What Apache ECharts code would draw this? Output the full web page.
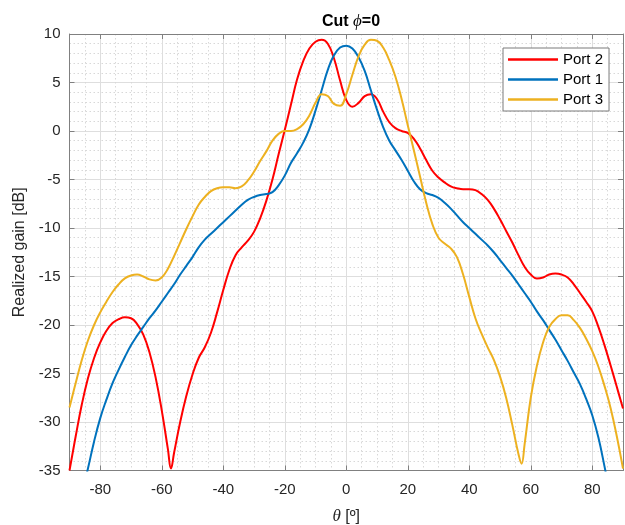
<!DOCTYPE html>
<html>
<head>
<meta charset="utf-8">
<script src="https://cdn.jsdelivr.net/npm/echarts@6/dist/echarts.min.js"></script>
<style>html,body{margin:0;padding:0;background:#fff}#c{width:625px;height:525px}</style>
</head>
<body>
<div id="c"></div>
<script>
// ---- data (theta in degrees, realized gain in dB) ----
const port2Theta = [-90,-88,-86,-84,-82,-80,-78,-76,-74,-72,-70,-68,-66,-64,-62,-60,-58,-57,-56,-54,-52,-50,-48,-46,-44,-42,-40,-38,-36,-34,-32,-30,-28,-26,-24,-22,-20,-18,-16,-14,-12,-10,-8,-6,-4,-2,0,2,4,6,8,10,12,14,16,18,20,22,24,26,28,30,32,34,36,38,40,42,44,46,48,50,52,54,56,58,60,62,64,66,68,70,72,74,76,78,80,82,84,86,88,90];
const port2Gain = [-35,-31.5,-28.2,-25.5,-23.4,-21.8,-20.6,-19.8,-19.4,-19.2,-19.3,-19.9,-21.0,-22.8,-25.4,-28.8,-32.8,-34.8,-33.2,-30.0,-27.3,-25.1,-23.4,-22.3,-20.8,-18.7,-16.4,-14.3,-12.8,-12.0,-11.3,-10.4,-9.0,-7.2,-5.0,-2.4,0.1,2.7,5.3,7.2,8.5,9.2,9.4,9.0,7.5,5.2,3.2,2.5,2.9,3.6,3.8,3.3,2.0,0.9,0.3,0.0,-0.2,-0.8,-1.8,-3.0,-4.1,-4.8,-5.3,-5.7,-5.9,-6.0,-6.0,-6.1,-6.5,-7.1,-8.0,-9.1,-10.3,-11.5,-12.8,-14.0,-14.8,-15.2,-15.1,-14.8,-14.7,-14.8,-15.1,-15.8,-16.7,-17.6,-18.6,-20.2,-22.1,-24.2,-26.4,-28.6];

const port1Theta = [-90,-88,-86,-84,-82,-80,-78,-76,-74,-72,-70,-68,-66,-64,-62,-60,-58,-56,-54,-52,-50,-48,-46,-44,-42,-40,-38,-36,-34,-32,-30,-28,-26,-24,-22,-20,-18,-16,-14,-12,-10,-8,-6,-4,-2,0,2,4,6,8,10,12,14,16,18,20,22,24,26,28,30,32,34,36,38,40,42,44,46,48,50,52,54,56,58,60,62,64,66,68,70,72,74,76,78,80,82,84,86,88,90];
const port1Gain = [-43.5,-40.5,-37.5,-34.8,-32.0,-29.6,-27.7,-26.0,-24.6,-23.3,-22.1,-21.1,-20.2,-19.3,-18.5,-17.6,-16.7,-15.8,-14.8,-13.9,-13.0,-12.0,-11.2,-10.6,-10.0,-9.4,-8.8,-8.2,-7.6,-7.1,-6.8,-6.6,-6.5,-6.3,-5.6,-4.6,-3.3,-2.3,-1.2,0.2,2.1,4.2,6.3,7.8,8.6,8.8,8.5,7.6,6.2,4.2,2.2,0.4,-1.0,-2.0,-3.0,-4.1,-5.2,-6.0,-6.4,-6.6,-6.9,-7.4,-8.0,-8.7,-9.4,-10.0,-10.6,-11.2,-11.8,-12.5,-13.3,-14.1,-14.9,-15.8,-16.7,-17.6,-18.6,-19.5,-20.5,-21.5,-22.6,-23.7,-24.9,-26.1,-27.6,-29.3,-31.6,-34.6,-37.8,-41.0,-44.0];

const port3Theta = [-90,-88,-86,-84,-82,-80,-78,-76,-74,-72,-70,-68,-66,-64,-62,-60,-58,-56,-54,-52,-50,-48,-46,-44,-42,-40,-38,-36,-34,-32,-30,-28,-26,-24,-22,-20,-18,-16,-14,-12,-10,-8,-6,-4,-2,0,2,4,6,8,10,12,14,16,18,20,22,24,26,28,30,32,34,36,38,40,42,44,46,48,50,52,54,56,57,58,60,62,64,66,68,70,72,74,76,78,80,82,84,86,88,90];
const port3Gain = [-28.5,-26.0,-23.6,-21.6,-20.0,-18.7,-17.6,-16.6,-15.8,-15.2,-14.9,-14.8,-15.0,-15.3,-15.4,-15.1,-14.2,-12.9,-11.5,-10.1,-8.8,-7.6,-6.8,-6.2,-5.9,-5.8,-5.8,-5.9,-5.7,-5.1,-4.2,-3.1,-2.1,-1.0,-0.3,0.0,0.0,0.2,0.7,1.6,2.9,3.8,3.6,2.8,2.6,3.8,5.8,7.7,8.9,9.4,9.3,8.6,7.3,5.6,3.3,0.6,-2.0,-4.7,-7.4,-9.6,-11.0,-11.6,-12.1,-13.0,-14.8,-17.1,-19.3,-20.9,-22.3,-23.6,-25.3,-27.5,-30.3,-33.3,-34.3,-32.3,-27.5,-24.2,-21.8,-20.2,-19.4,-19.0,-19.0,-19.5,-20.3,-21.4,-22.7,-24.3,-26.3,-28.6,-31.5,-34.8];

const seriesNames = ['Port 2', 'Port 1', 'Port 3'];
const seriesColors = ['#FF0000', '#0072BD', '#EDB120'];

// ---- chart ----
const FONT = "'Liberation Sans', Arial, Helvetica, sans-serif";
const TXT = '#262626';
const AXC = '#808080';
const pairs = (t, g) => t.map((v, i) => [v, g[i]]);
const seriesData = [pairs(port2Theta, port2Gain), pairs(port1Theta, port1Gain), pairs(port3Theta, port3Gain)];

const chart = echarts.init(document.getElementById('c'), null, {renderer: 'canvas'});

const xCommon = {
  type: 'value', min: -90, max: 90, splitNumber: 9, minInterval: 20, maxInterval: 20,
  axisLine: {show: true, onZero: false, lineStyle: {color: AXC, width: 1}},
  axisTick: {show: true, inside: true, length: 5, lineStyle: {color: AXC}},
};
const yCommon = {
  type: 'value', min: -35, max: 10, interval: 5,
  axisLine: {show: true, onZero: false, lineStyle: {color: AXC, width: 1}},
  axisTick: {show: true, inside: true, length: 5, lineStyle: {color: AXC}},
};

chart.setOption({
  animation: false,
  backgroundColor: '#ffffff',
  title: {
    text: 'Cut {i|ϕ}=0',
    left: 346, top: 8, textAlign: 'center',
    textStyle: {
      fontFamily: FONT, fontSize: 16, fontWeight: 'bold', color: '#000',
      rich: {i: {fontFamily: "'Liberation Serif', 'DejaVu Serif', serif", fontStyle: 'italic', fontWeight: 'normal', fontSize: 17, color: '#000'}}
    }
  },
  grid: {left: 69.5, right: 2, top: 34, bottom: 54.5, containLabel: false, outerBoundsMode: 'none'},
  legend: {
    data: seriesNames,
    orient: 'vertical', left: 503, top: 48,
    padding: [4, 6, 4, 5], itemGap: 5,
    itemWidth: 50, itemHeight: 2.5, icon: 'rect',
    backgroundColor: '#fff', borderColor: '#7a7a7a', borderWidth: 1,
    textStyle: {fontFamily: FONT, fontSize: 15, color: '#000', lineHeight: 15}
  },
  xAxis: [
    Object.assign({}, xCommon, {
      position: 'bottom',
      axisLabel: {show: true, margin: 12, fontFamily: FONT, fontSize: 15, color: TXT,
        formatter: v => (v % 20 === 0 ? String(v) : '')},
      splitLine: {show: true, lineStyle: {color: '#dedede', width: 1}},
      minorTick: {show: false, splitNumber: 4},
      minorSplitLine: {show: true, lineStyle: {color: '#d8d8d8', width: 1, type: [1.5, 2.5]}},
      name: '{i|θ} [º]', nameLocation: 'middle', nameGap: 38,
      nameTextStyle: {fontFamily: FONT, fontSize: 16, color: TXT,
        rich: {i: {fontFamily: "'Liberation Serif', 'DejaVu Serif', serif", fontStyle: 'italic', fontSize: 17, color: TXT}}}
    }),
    Object.assign({}, xCommon, {
      position: 'top',
      axisLabel: {show: false},
      splitLine: {show: false}
    })
  ],
  yAxis: [
    Object.assign({}, yCommon, {
      position: 'left',
      axisLabel: {show: true, margin: 9, fontFamily: FONT, fontSize: 15, color: TXT},
      splitLine: {show: true, lineStyle: {color: '#dedede', width: 1}},
      minorTick: {show: false, splitNumber: 5},
      minorSplitLine: {show: true, lineStyle: {color: '#d8d8d8', width: 1, type: [1.5, 2.5]}},
      name: 'Realized gain [dB]', nameLocation: 'middle', nameGap: 35,
      nameTextStyle: {fontFamily: FONT, fontSize: 16, color: TXT}
    }),
    Object.assign({}, yCommon, {
      position: 'right',
      axisLabel: {show: false},
      splitLine: {show: false}
    })
  ],
  series: seriesNames.map((n, k) => ({
    name: n, type: 'line', data: seriesData[k],
    xAxisIndex: 0, yAxisIndex: 0,
    showSymbol: false, symbol: 'none', smooth: 0.45, clip: true,
    lineStyle: {color: seriesColors[k], width: 2},
    itemStyle: {color: seriesColors[k]},
    z: 3 + k
  }))
});
</script>
</body>
</html>
